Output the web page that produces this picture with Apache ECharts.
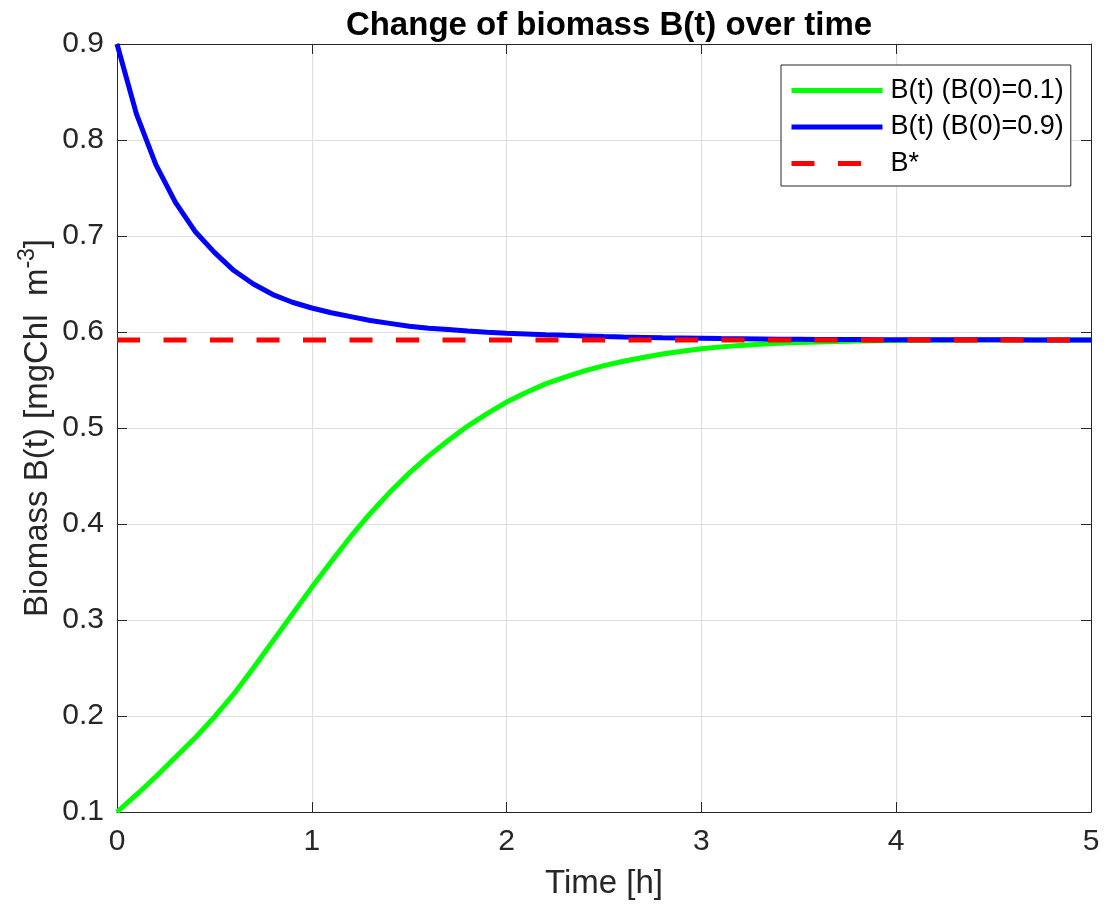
<!DOCTYPE html>
<html>
<head>
<meta charset="utf-8">
<script src="https://cdn.jsdelivr.net/npm/echarts@6/dist/echarts.min.js"></script>
<style>html,body{margin:0;padding:0;background:#fff;}#c{width:1106px;height:905px;}</style>
</head>
<body>
<div id="c"></div>
<script>
// ---- data ----
const times = [0.0,0.1,0.2,0.3,0.4,0.5,0.6,0.7,0.8,0.9,1.0,1.1,1.2,1.3,1.4,1.5,1.6,1.7,1.8,1.9,2.0,2.1,2.2,2.3,2.4,2.5,2.6,2.7,2.8,2.9,3.0,3.1,3.2,3.3,3.4,3.5,3.6,3.7,3.8,3.9,4.0,4.1,4.2,4.3,4.4,4.5,4.6,4.7,4.8,4.9,5.0];
const biomassLow = [0.100,0.118,0.137,0.157,0.177,0.199,0.223,0.250,0.278,0.306,0.334,0.361,0.387,0.411,0.433,0.453,0.471,0.487,0.502,0.515,0.527,0.537,0.546,0.553,0.5595,0.565,0.5695,0.5735,0.577,0.58,0.5825,0.5845,0.586,0.5872,0.5882,0.589,0.5897,0.5902,0.5906,0.5909,0.5911,0.5913,0.5914,0.5915,0.5916,0.5916,0.5917,0.5917,0.5917,0.5917,0.5917];
const biomassHigh = [0.900,0.827,0.774,0.735,0.705,0.683,0.664,0.650,0.639,0.631,0.625,0.620,0.616,0.612,0.609,0.606,0.604,0.6025,0.601,0.5998,0.5988,0.598,0.5972,0.5965,0.5959,0.5953,0.5948,0.5944,0.594,0.5937,0.5934,0.5931,0.5929,0.5927,0.5925,0.5924,0.5923,0.5922,0.5921,0.592,0.592,0.5919,0.5919,0.5918,0.5918,0.5918,0.5918,0.5917,0.5917,0.5917,0.5917];
const bStar = 0.5917;
const starTimes = [0, 5];
const xTicks = [0, 1, 2, 3, 4, 5];
const yTicks = [0.1, 0.2, 0.3, 0.4, 0.5, 0.6, 0.7, 0.8, 0.9];
const seriesNames = ['B(t) (B(0)=0.1)', 'B(t) (B(0)=0.9)', 'B*'];

const FONT = '"Liberation Sans", Arial, Helvetica, sans-serif';
const AX = '#262626';
const GRIDC = '#dfdfdf';

const lowPts = times.map((t, i) => [t, biomassLow[i]]);
const highPts = times.map((t, i) => [t, biomassHigh[i]]);
const starPts = starTimes.map(t => [t, bStar]);

const chart = echarts.init(document.getElementById('c'), null, {renderer: 'canvas'});

function xAxisDef(pos, labels) {
  return {
    type: 'value', position: pos,
    min: xTicks[0], max: xTicks[xTicks.length - 1], interval: 1,
    axisLine: {show: true, onZero: false, lineStyle: {color: AX, width: 1}},
    axisTick: {show: true, inside: true, length: 10, lineStyle: {color: AX}},
    axisLabel: {show: labels, color: AX, fontSize: 30, fontFamily: FONT, margin: 15},
    splitLine: {show: labels, lineStyle: {color: GRIDC, width: 1}},
    name: labels ? 'Time [h]' : '', nameLocation: 'middle', nameGap: 55,
    nameTextStyle: {color: AX, fontSize: 33, fontFamily: FONT}
  };
}
function yAxisDef(pos, labels) {
  return {
    type: 'value', position: pos,
    min: yTicks[0], max: yTicks[yTicks.length - 1], interval: 0.1,
    axisLine: {show: true, onZero: false, lineStyle: {color: AX, width: 1}},
    axisTick: {show: true, inside: true, length: 10, lineStyle: {color: AX}},
    axisLabel: {show: labels, color: AX, fontSize: 30, fontFamily: FONT, margin: 13,
      formatter: v => v.toFixed(1)},
    splitLine: {show: labels, lineStyle: {color: GRIDC, width: 1}},
    name: labels ? 'Biomass B(t) [mgChl  m{sup|-3}]' : '', nameLocation: 'middle', nameGap: 58,
    nameMoveOverlap: false,
    nameTextStyle: {color: AX, fontSize: 33, fontFamily: FONT,
      rich: {sup: {fontSize: 23, fontFamily: FONT, color: AX, padding: [0, 0, 20, 0]}}}
  };
}

chart.setOption({
  backgroundColor: '#ffffff',
  animation: false,
  title: {
    text: 'Change of biomass B(t) over time',
    left: 604, top: 4, textAlign: 'center',
    textStyle: {color: '#000', fontSize: 33, fontWeight: 'bold', fontFamily: FONT}
  },
  grid: {left: 117, right: 15, top: 44, bottom: 93, containLabel: false},
  legend: {
    orient: 'vertical', left: 781, top: 65,
    backgroundColor: '#fff', borderColor: AX, borderWidth: 1,
    padding: [12, 7, 9, 8],
    itemWidth: 91, itemHeight: 8, itemGap: 9.5,
    textStyle: {color: '#000', fontSize: 27, fontFamily: FONT, padding: [0, 0, 0, 3], lineHeight: 27},
    itemStyle: {color: 'rgba(0,0,0,0)', borderColor: 'rgba(0,0,0,0)', borderWidth: 0},
    lineStyle: {width: 5},
    data: [
      {name: seriesNames[0]},
      {name: seriesNames[1]},
      {name: seriesNames[2], lineStyle: {width: 5}}
    ]
  },
  xAxis: [xAxisDef('bottom', true), xAxisDef('top', false)],
  yAxis: [yAxisDef('left', true), yAxisDef('right', false)],
  series: [
    {name: seriesNames[0], type: 'line', data: lowPts, xAxisIndex: 0, yAxisIndex: 0,
      symbol: 'none', showSymbol: false, lineStyle: {color: '#00ff00', width: 5}, itemStyle: {color: '#00ff00'}},
    {name: seriesNames[1], type: 'line', data: highPts, xAxisIndex: 0, yAxisIndex: 0,
      symbol: 'none', showSymbol: false, lineStyle: {color: '#0000ff', width: 5}, itemStyle: {color: '#0000ff'}},
    {name: seriesNames[2], type: 'line', data: starPts, xAxisIndex: 0, yAxisIndex: 0,
      symbol: 'none', showSymbol: false, lineStyle: {color: '#ff0000', width: 5, type: [23, 23.5], cap: 'butt'}, itemStyle: {color: '#ff0000'}}
  ]
});
</script>
</body>
</html>
